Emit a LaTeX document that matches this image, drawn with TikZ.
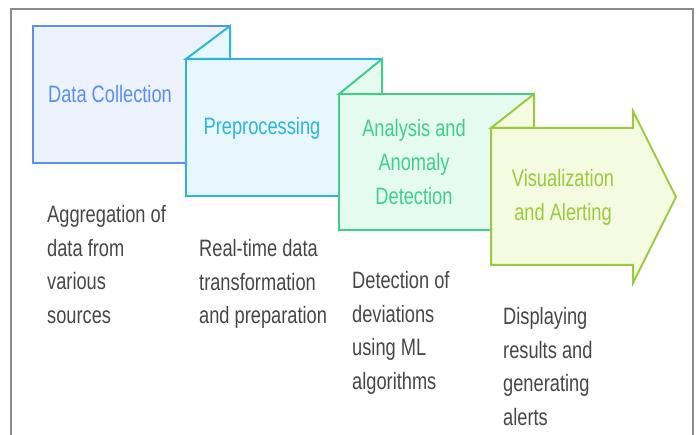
\documentclass[tikz,border=0pt]{standalone}
\usepackage{fontspec}
\newfontfamily\flowfont{Liberation Sans}[FakeStretch=0.77]
\usetikzlibrary{arrows.meta}

\definecolor{dcline}{HTML}{5B8FEF}
\definecolor{dcfill}{HTML}{EDF3FE}
\definecolor{preline}{HTML}{2BB5E0}
\definecolor{prefill}{HTML}{E8F7FD}
\definecolor{analine}{HTML}{3FCF8B}
\definecolor{anafill}{HTML}{E5FBEF}
\definecolor{visline}{HTML}{9BCA3C}
\definecolor{visfill}{HTML}{F4FBE1}
\definecolor{notegray}{HTML}{474747}

\tikzset{
  stage/.style={line width=2pt, line join=miter},
  steplabel/.style={font=\flowfont\fontsize{23.7}{34}\selectfont, align=center, inner sep=0pt},
  stepnote/.style={font=\flowfont\fontsize{23.7}{33.5}\selectfont, align=left, inner sep=0pt,
    text=notegray, anchor=base west}
}

\begin{document}
\begin{tikzpicture}[x=1pt, y=-1pt]
        \useasboundingbox (0,0) rectangle (697,435);
        \draw[gray!90, line width=1.6pt] (11,440) -- (11,9) -- (693,9) -- (693,440);

        \filldraw[stage, draw=dcline, fill=dcfill] (33,26) rectangle (230,163);

        \filldraw[stage, draw=preline, fill=prefill] (186,59) -- (230,26) -- (230,59) -- cycle;
        \filldraw[stage, draw=preline, fill=prefill] (186,59) rectangle (382,196);

        \filldraw[stage, draw=analine, fill=anafill] (339,94) -- (382,59) -- (382,94) -- cycle;
        \filldraw[stage, draw=analine, fill=anafill] (339,94) rectangle (534,230);

        \filldraw[stage, draw=visline, fill=visfill] (491,128) -- (534,94) -- (534,128) -- cycle;
        \filldraw[stage, draw=visline, fill=visfill] (491,128) -- (633,128) -- (633,111)
            -- (676,197) -- (633,283) -- (633,265) -- (491,265) -- cycle;

        \node[steplabel, text=dcline] (dc) at (110,94) {Data Collection};
        \node[steplabel, text=preline] (pre) at (262,128) {Preprocessing};
        \node[steplabel, text=analine] (ana) at (414,162) {Analysis and\\Anomaly\\Detection};
        \node[steplabel, text=visline] (vis) at (563,197) {Visualization\\and Alerting};

        % notes sit on the baseline of their last line
        \node[stepnote] (dcnote) at (47,323.5) {Aggregation of\\data from\\various\\sources};
        \node[stepnote] (prenote) at (199,324) {Real-time data\\transformation\\and preparation};
        \node[stepnote] (ananote) at (352,389.5) {Detection of\\deviations\\using ML\\algorithms};
        \node[stepnote] (visnote) at (503,425.5) {Displaying\\results and\\generating\\alerts};

    \end{tikzpicture}
\end{document}
